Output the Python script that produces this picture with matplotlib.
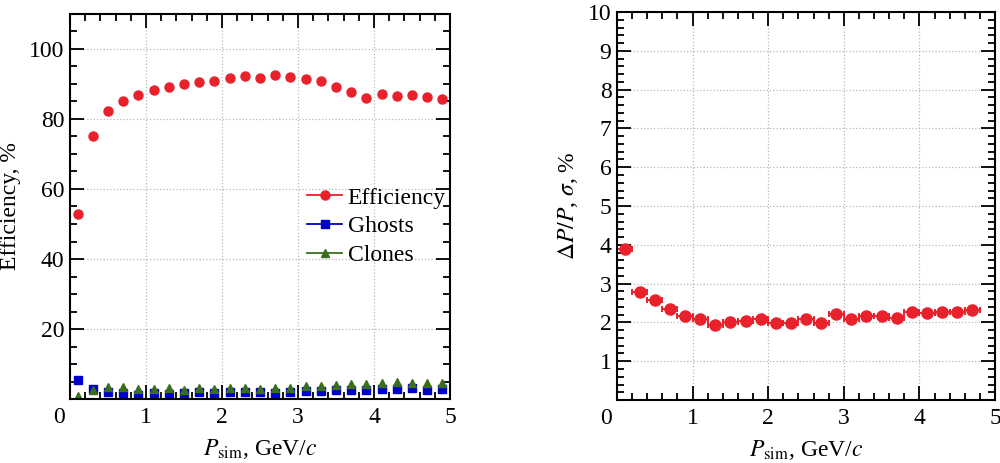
import matplotlib.pyplot as plt
import matplotlib.transforms as mtransforms
import numpy as np
from matplotlib.ticker import MultipleLocator

plt.rcParams['font.family'] = ['Liberation Serif', 'DejaVu Serif']
plt.rcParams['mathtext.fontset'] = 'stix'

# Left panel: efficiency / ghosts / clones vs momentum
p_bins = np.arange(0.1, 5.0, 0.2)
efficiency = [53.0, 75.2, 82.4, 85.0, 86.8, 88.4, 89.2, 90.1, 90.5, 90.8,
              91.7, 92.4, 91.8, 92.6, 92.1, 91.5, 90.8, 89.1, 87.6, 86.1,
              87.1, 86.5, 86.8, 86.3, 85.6]
ghosts = [5.4, 2.8, 2.0, 1.8, 1.3, 1.7, 1.6, 1.7, 1.9, 1.7,
          2.0, 1.9, 2.0, 1.8, 2.0, 2.2, 2.3, 2.5, 2.5, 2.6,
          2.8, 2.95, 3.05, 2.7, 2.95]
clones = [0.9, 2.5, 3.5, 3.4, 2.9, 3.0, 3.05, 2.7, 3.05, 2.9,
          3.05, 3.3, 2.9, 3.3, 3.05, 3.7, 3.6, 3.9, 4.2, 4.2,
          4.6, 4.8, 4.6, 4.5, 4.5]

# Right panel: momentum resolution
p_res = np.arange(0.1, 4.8, 0.2)
resolution = [3.90, 2.78, 2.57, 2.34, 2.17, 2.09, 1.94, 2.01, 2.03, 2.10,
              1.98, 1.98, 2.08, 1.98, 2.23, 2.09, 2.17, 2.16, 2.11, 2.26,
              2.25, 2.26, 2.26, 2.32]
bin_half = 0.1

red = '#e8212b'
blue = '#0000cc'
green = '#3a6e1e'
fs = 17

fig = plt.figure(figsize=(10, 4.63), dpi=100)
ax1 = fig.add_axes([0.070, 0.138, 0.380, 0.832])
ax2 = fig.add_axes([0.617, 0.136, 0.378, 0.838])


def style(ax, xminor, ymajor, yminor):
    ax.xaxis.set_major_locator(MultipleLocator(1))
    ax.xaxis.set_minor_locator(MultipleLocator(xminor))
    ax.yaxis.set_major_locator(MultipleLocator(ymajor))
    ax.yaxis.set_minor_locator(MultipleLocator(yminor))
    ax.tick_params(which='both', direction='in', top=True, right=True,
                   labelsize=fs, width=1.3)
    ax.tick_params(axis='y', pad=4)
    ax.tick_params(axis='x', pad=6)
    ax.tick_params(which='major', length=10)
    ax.tick_params(which='minor', length=5)
    ax.grid(True, which='major', color='#b8b8b8', linestyle=':', linewidth=0.9)
    for s in ax.spines.values():
        s.set_linewidth(1.5)
    ax.set_xlim(0, 5)
    ax.set_xlabel(r'$P_{\rm sim}$, GeV/$c$', fontsize=fs, labelpad=6)
    # the "0" at the origin sits a little left of the corner
    ax.set_xticks(range(6))
    shift = mtransforms.ScaledTranslation(-0.11, 0, fig.dpi_scale_trans)
    lab0 = ax.get_xticklabels()[0]
    lab0.set_transform(lab0.get_transform() + shift)


ax1.plot(p_bins, efficiency, 'o', color=red, ms=6.5, label='Efficiency')
ax1.plot(p_bins, ghosts, 's', color=blue, ms=5.5, label='Ghosts')
ax1.plot(p_bins, clones, '^', color=green, ms=6, label='Clones')
style(ax1, 0.2, 20, 5)
ax1.set_ylim(0, 110)
ax1.set_yticks([20, 40, 60, 80, 100])
ax1.set_ylabel('Efficiency, %', fontsize=fs)
ax1.yaxis.set_label_coords(-0.13, 0.5)
handles = [plt.Line2D([], [], color=red, marker='o', ms=6.5, lw=1.3),
           plt.Line2D([], [], color=blue, marker='s', ms=5.5, lw=1.3),
           plt.Line2D([], [], color=green, marker='^', ms=6, lw=1.3)]
ax1.legend(handles, ['Efficiency', 'Ghosts', 'Clones'], loc='upper left',
           bbox_to_anchor=(0.60, 0.575), frameon=False, fontsize=fs,
           handlelength=1.45, handletextpad=0.25, labelspacing=0.3,
           borderaxespad=0)

ax2.errorbar(p_res, resolution, xerr=bin_half, fmt='o', color=red, ms=8,
             elinewidth=1.4, capsize=2.5, capthick=1.4)
style(ax2, 0.2, 1, 0.2)
ax2.set_ylim(0, 10)
ax2.set_yticks(range(1, 11))
ax2.set_ylabel(r'$\Delta P/P$, $\sigma$, %', fontsize=fs)
ax2.yaxis.set_label_coords(-0.098, 0.5)

fig.savefig('out.png', dpi=100)
